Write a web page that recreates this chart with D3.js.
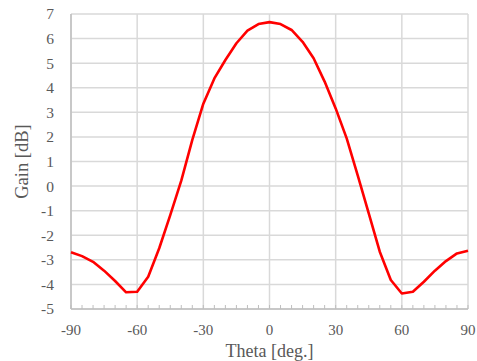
<!DOCTYPE html>
<html>
<head>
<meta charset="utf-8">
<script src="https://cdn.jsdelivr.net/npm/d3@7.9.0/dist/d3.min.js"></script>
<style>
  body { margin: 0; background: #fff; }
  svg text { font-family: "Liberation Serif", "Times New Roman", serif; fill: #595959; }
</style>
</head>
<body>
<svg id="chart" width="477" height="361"></svg>
<script>
// ─────────── DATA ───────────
const theta = [-90, -85, -80, -75, -70, -65, -60, -55, -50, -45, -40, -35, -30, -25, -20, -15, -10, -5,
               0, 5, 10, 15, 20, 25, 30, 35, 40, 45, 50, 55, 60, 65, 70, 75, 80, 85, 90];
const gain = [-2.69, -2.85, -3.08, -3.44, -3.86, -4.32, -4.30, -3.69, -2.53, -1.18, 0.22, 1.88, 3.35, 4.38, 5.13, 5.81, 6.32, 6.59,
              6.67, 6.59, 6.35, 5.87, 5.20, 4.25, 3.16, 1.94, 0.44, -1.11, -2.67, -3.82, -4.37, -4.30, -3.89, -3.44, -3.05, -2.74, -2.63];
const xTicks = [-90, -60, -30, 0, 30, 60, 90];
const yTicks = [-5, -4, -3, -2, -1, 0, 1, 2, 3, 4, 5, 6, 7];

// ─────────── LAYOUT ───────────
const margin = { top: 14, right: 9, bottom: 52, left: 71 };
const width = 477, height = 361;
const svg = d3.select("#chart");

const x = d3.scaleLinear().domain([-90, 90]).range([margin.left, width - margin.right]);
const y = d3.scaleLinear().domain([-5, 7]).range([height - margin.bottom, margin.top]);

// gridlines
svg.append("g")
  .selectAll("line")
  .data(yTicks)
  .join("line")
  .attr("x1", x(-90)).attr("x2", x(90))
  .attr("y1", d => y(d)).attr("y2", d => y(d))
  .attr("stroke", "#d9d9d9").attr("stroke-width", 1.5);

svg.append("g")
  .selectAll("line")
  .data(xTicks)
  .join("line")
  .attr("x1", d => x(d)).attr("x2", d => x(d))
  .attr("y1", y(-5)).attr("y2", y(7))
  .attr("stroke", "#d9d9d9").attr("stroke-width", 1.5);

// axis lines
svg.append("line")
  .attr("x1", x(-90)).attr("x2", x(90))
  .attr("y1", y(-5)).attr("y2", y(-5))
  .attr("stroke", "#bfbfbf").attr("stroke-width", 1.5);
svg.append("line")
  .attr("x1", x(-90)).attr("x2", x(-90))
  .attr("y1", y(-5)).attr("y2", y(7))
  .attr("stroke", "#bfbfbf").attr("stroke-width", 1.5);

// minor ticks every 5 deg, pointing inward
svg.append("g")
  .selectAll("line")
  .data(d3.range(-90, 91, 5))
  .join("line")
  .attr("x1", d => x(d)).attr("x2", d => x(d))
  .attr("y1", y(-5)).attr("y2", y(-5) - 4)
  .attr("stroke", "#bfbfbf").attr("stroke-width", 1);

// tick labels
svg.append("g")
  .selectAll("text")
  .data(xTicks)
  .join("text")
  .attr("x", d => x(d))
  .attr("y", 335)
  .attr("text-anchor", "middle")
  .attr("font-size", 15)
  .text(d => d);

svg.append("g")
  .selectAll("text")
  .data(yTicks)
  .join("text")
  .attr("x", 54)
  .attr("y", d => y(d))
  .attr("dy", "0.35em")
  .attr("text-anchor", "end")
  .attr("font-size", 15.5)
  .text(d => d);

// axis titles
svg.append("text")
  .attr("x", x(0))
  .attr("y", 357)
  .attr("text-anchor", "middle")
  .attr("font-size", 18)
  .text("Theta [deg.]");

svg.append("text")
  .attr("transform", `translate(28, ${y(1)}) rotate(-90)`)
  .attr("text-anchor", "middle")
  .attr("font-size", 18.5)
  .text("Gain [dB]");

// the curve
const line = d3.line()
  .x((d, i) => x(theta[i]))
  .y(d => y(d));

svg.append("path")
  .datum(gain)
  .attr("fill", "none")
  .attr("stroke", "#ff0000")
  .attr("stroke-width", 2.6)
  .attr("stroke-linejoin", "round")
  .attr("d", line);
</script>
</body>
</html>
